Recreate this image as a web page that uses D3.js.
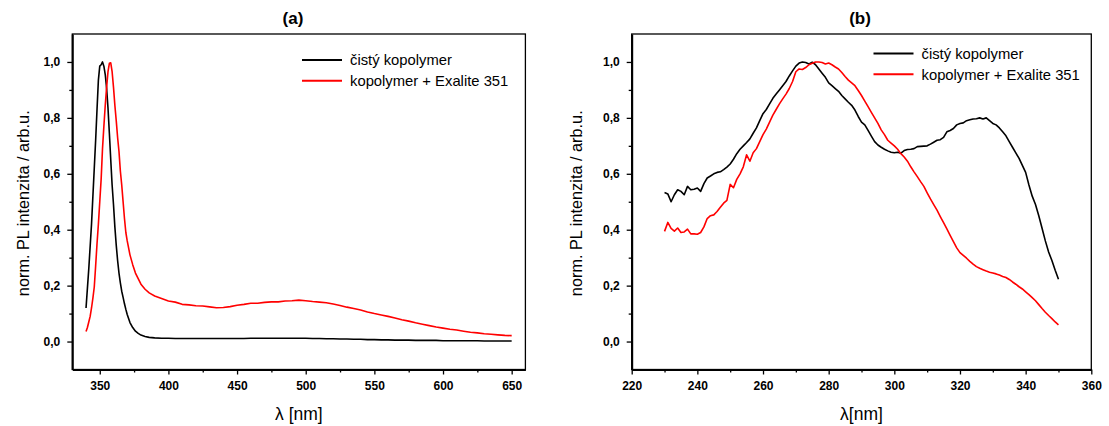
<!DOCTYPE html>
<html>
<head>
<meta charset="utf-8">
<script src="https://cdn.jsdelivr.net/npm/d3@7"></script>
<style>
  body { margin: 0; background: #fff; }
  text { font-family: Arial, "Liberation Sans", sans-serif; }
</style>
</head>
<body>
<div id="chart"></div>
<script>
// data
const seriesNames = ["čistý kopolymer", "kopolymer + Exalite 351"];
const seriesColors = ["#000000", "#ff0000"];
const yTicks = [0, 0.2, 0.4, 0.6, 0.8, 1.0];
const yMinor = [0.1, 0.3, 0.5, 0.7, 0.9];

// (a) emise
const aWl = [340, 341, 342, 343, 344, 345, 346, 347, 348, 349, 350, 351, 352, 353, 354, 355, 356, 357, 358, 359,
  360, 361, 362, 363, 364, 365, 366, 367, 368, 369, 370, 371, 372, 374, 376, 378, 380, 383, 386, 390, 395,
  400, 405, 410, 415, 420, 425, 430, 435, 440, 445, 450, 455, 460, 465, 470, 475, 480, 485, 490, 495,
  500, 505, 510, 515, 520, 525, 530, 535, 540, 545, 550, 555, 560, 565, 570, 575, 580, 585, 590, 595,
  600, 605, 610, 615, 620, 625, 630, 635, 640, 645, 650];
const aBlack = [0.12, 0.19, 0.26, 0.34, 0.42, 0.52, 0.62, 0.72, 0.83, 0.935, 0.985, 0.99, 1.0, 0.985, 0.955, 0.905, 0.835, 0.745, 0.65, 0.56,
  0.49, 0.41, 0.345, 0.29, 0.245, 0.21, 0.18, 0.158, 0.135, 0.115, 0.097, 0.082, 0.068, 0.05, 0.037, 0.029, 0.023, 0.018, 0.015, 0.013, 0.012,
  0.012, 0.011, 0.011, 0.011, 0.011, 0.011, 0.011, 0.011, 0.011, 0.011, 0.011, 0.011, 0.012, 0.012, 0.012, 0.012, 0.012, 0.012, 0.012, 0.012,
  0.012, 0.011, 0.011, 0.010, 0.010, 0.009, 0.009, 0.008, 0.008, 0.007, 0.007, 0.006, 0.006, 0.005, 0.005, 0.005, 0.004, 0.004, 0.004, 0.004,
  0.003, 0.003, 0.003, 0.003, 0.003, 0.003, 0.002, 0.002, 0.002, 0.002, 0.002];
const aRed = [0.036, 0.05, 0.07, 0.09, 0.12, 0.155, 0.195, 0.27, 0.35, 0.42, 0.5, 0.58, 0.69, 0.77, 0.845, 0.91, 0.965, 0.995, 0.997, 0.965,
  0.91, 0.845, 0.79, 0.73, 0.68, 0.61, 0.56, 0.5, 0.44, 0.39, 0.36, 0.335, 0.31, 0.275, 0.245, 0.225, 0.205, 0.187, 0.174, 0.163, 0.154,
  0.145, 0.141, 0.133, 0.131, 0.128, 0.127, 0.124, 0.121, 0.122, 0.125, 0.13, 0.133, 0.137, 0.137, 0.14, 0.142, 0.142, 0.145, 0.146, 0.148,
  0.146, 0.143, 0.141, 0.139, 0.134, 0.129, 0.123, 0.118, 0.113, 0.106, 0.1, 0.095, 0.09, 0.084, 0.078, 0.073, 0.067, 0.062, 0.057, 0.052,
  0.048, 0.044, 0.041, 0.037, 0.033, 0.031, 0.028, 0.026, 0.024, 0.022, 0.021];

// (b) excitace
const bWl = d3.range(230, 351);
const bBlack = [0.533, 0.528, 0.50, 0.525, 0.543, 0.537, 0.525, 0.555, 0.543, 0.545,
  0.549, 0.537, 0.565, 0.585, 0.592, 0.60, 0.605, 0.607, 0.615, 0.624,
  0.635, 0.652, 0.672, 0.688, 0.70, 0.712, 0.725, 0.745, 0.764, 0.79,
  0.815, 0.83, 0.85, 0.87, 0.885, 0.90, 0.915, 0.93, 0.95, 0.968,
  0.985, 0.996, 1.0, 0.998, 0.993, 0.999, 0.99, 0.975, 0.96, 0.945,
  0.925, 0.915, 0.905, 0.895, 0.88, 0.868, 0.856, 0.845, 0.828, 0.805,
  0.785, 0.775, 0.755, 0.735, 0.715, 0.703, 0.695, 0.688, 0.682, 0.677,
  0.675, 0.677, 0.674, 0.683, 0.687, 0.688, 0.69, 0.697, 0.698, 0.699,
  0.70, 0.706, 0.713, 0.72, 0.722, 0.73, 0.75, 0.755, 0.762, 0.775,
  0.78, 0.782, 0.79, 0.793, 0.796, 0.797, 0.80, 0.796, 0.80, 0.79,
  0.78, 0.775, 0.764, 0.75, 0.736, 0.715, 0.695, 0.675, 0.655, 0.63,
  0.605, 0.56, 0.52, 0.49, 0.45, 0.405, 0.36, 0.32, 0.29, 0.255,
  0.223];
const bRed = [0.394, 0.426, 0.405, 0.395, 0.406, 0.39, 0.392, 0.402, 0.385, 0.385,
  0.384, 0.39, 0.41, 0.44, 0.45, 0.453, 0.465, 0.48, 0.495, 0.505,
  0.562, 0.55, 0.58, 0.60, 0.625, 0.668, 0.645, 0.675, 0.69, 0.715,
  0.74, 0.76, 0.785, 0.81, 0.83, 0.85, 0.868, 0.885, 0.905, 0.93,
  0.965, 0.975, 0.973, 0.98, 0.99, 0.995, 1.0, 1.0, 0.998, 0.993,
  0.996, 0.99, 0.982, 0.975, 0.962, 0.948, 0.935, 0.925, 0.915, 0.898,
  0.88, 0.86, 0.84, 0.82, 0.80, 0.78, 0.757, 0.74, 0.72, 0.71,
  0.70, 0.688, 0.672, 0.66, 0.645, 0.625, 0.607, 0.59, 0.572, 0.555,
  0.532, 0.51, 0.49, 0.47, 0.447, 0.425, 0.403, 0.38, 0.357, 0.335,
  0.318, 0.308, 0.298, 0.287, 0.277, 0.268, 0.262, 0.257, 0.252, 0.248,
  0.245, 0.242, 0.238, 0.233, 0.229, 0.222, 0.213, 0.205, 0.196, 0.188,
  0.178, 0.168, 0.157, 0.146, 0.132, 0.118, 0.105, 0.093, 0.082, 0.07,
  0.06];

const width = 1109;
const height = 426;
const plotTop = 34, plotBottom = 369.5;

// czech decimal comma
const fmtY = d3.formatLocale({ decimal: ",", thousands: " ", grouping: [3], currency: ["", ""] }).format(".1f");

const svg = d3.select("#chart")
  .append("svg")
  .attr("width", width)
  .attr("height", height);

const panels = [
  {
    title: "(a)", titleX: 293, xLabel: "λ [nm]", left: 72.3, right: 525.4,
    domain: [330, 660], major: d3.range(350, 651, 50), minor: d3.range(375, 626, 50),
    wl: aWl, series: [aBlack, aRed], legend: [302, 60], ylabX: 28.5
  },
  {
    title: "(b)", titleX: 860, xLabel: "λ[nm]", left: 631.7, right: 1091.3,
    domain: [220, 360], major: d3.range(220, 361, 20), minor: d3.range(230, 351, 20),
    wl: bWl, series: [bBlack, bRed], legend: [873.5, 53.5], ylabX: 582
  }
];

panels.forEach(function (p) {
  const x = d3.scaleLinear().domain(p.domain).range([p.left, p.right]);
  const y = d3.scaleLinear().domain([-0.1, 1.1]).range([plotBottom, plotTop]);
  const g = svg.append("g");

  // frame
  g.append("rect")
    .attr("x", p.left).attr("y", plotTop)
    .attr("width", p.right - p.left).attr("height", plotBottom - plotTop)
    .attr("fill", "none").attr("stroke", "#000").attr("stroke-width", 1.3);

  // curves
  const line = d3.line().x((d, i) => x(p.wl[i])).y(d => y(d));
  p.series.forEach(function (s, k) {
    g.append("path")
      .datum(s)
      .attr("d", line)
      .attr("fill", "none")
      .attr("stroke", seriesColors[k])
      .attr("stroke-width", 1.6)
      .attr("stroke-linejoin", "round");
  });

  // x axis
  const xAxis = g.append("g")
    .attr("transform", `translate(0,${plotBottom})`)
    .call(d3.axisBottom(x).tickValues(p.major).tickSize(5).tickSizeOuter(0).tickPadding(7).tickFormat(d3.format("d")));
  g.append("g")
    .attr("transform", `translate(0,${plotBottom})`)
    .call(d3.axisBottom(x).tickValues(p.minor).tickSize(3).tickSizeOuter(0).tickFormat(""))
    .select(".domain").remove();

  // y axis
  const yAxis = g.append("g")
    .attr("transform", `translate(${p.left},0)`)
    .call(d3.axisLeft(y).tickValues(yTicks).tickSize(5).tickSizeOuter(0).tickPadding(7).tickFormat(fmtY));
  g.append("g")
    .attr("transform", `translate(${p.left},0)`)
    .call(d3.axisLeft(y).tickValues(yMinor).tickSize(3).tickSizeOuter(0).tickFormat(""))
    .select(".domain").remove();

  g.selectAll(".domain").attr("stroke-width", 2);
  g.selectAll(".tick line").attr("stroke-width", 1.3);
  [xAxis, yAxis].forEach(a => a.selectAll("text")
    .attr("font-size", 12).attr("font-weight", "bold").attr("fill", "#000")
    .style("font-family", "Arial, 'Liberation Sans', sans-serif"));

  // titles
  g.append("text")
    .attr("x", p.titleX).attr("y", 24)
    .attr("text-anchor", "middle")
    .attr("font-size", 17).attr("font-weight", "bold")
    .text(p.title);

  g.append("text")
    .attr("x", (p.left + p.right) / 2).attr("y", 420)
    .attr("text-anchor", "middle")
    .attr("font-size", 17.5)
    .text(p.xLabel);

  g.append("text")
    .attr("transform", `translate(${p.ylabX},${(plotTop + plotBottom) / 2 + 1.5}) rotate(-90)`)
    .attr("text-anchor", "middle")
    .attr("font-size", 16.3)
    .text("norm. PL intenzita / arb.u.");

  // legend
  seriesNames.forEach(function (name, k) {
    const ly = p.legend[1] + k * 20.7;
    g.append("line")
      .attr("x1", p.legend[0]).attr("x2", p.legend[0] + 40)
      .attr("y1", ly).attr("y2", ly)
      .attr("stroke", seriesColors[k]).attr("stroke-width", 2);
    g.append("text")
      .attr("x", p.legend[0] + 48).attr("y", ly)
      .attr("dy", "0.36em")
      .attr("font-size", 14.8)
      .text(name);
  });
});
</script>
</body>
</html>
